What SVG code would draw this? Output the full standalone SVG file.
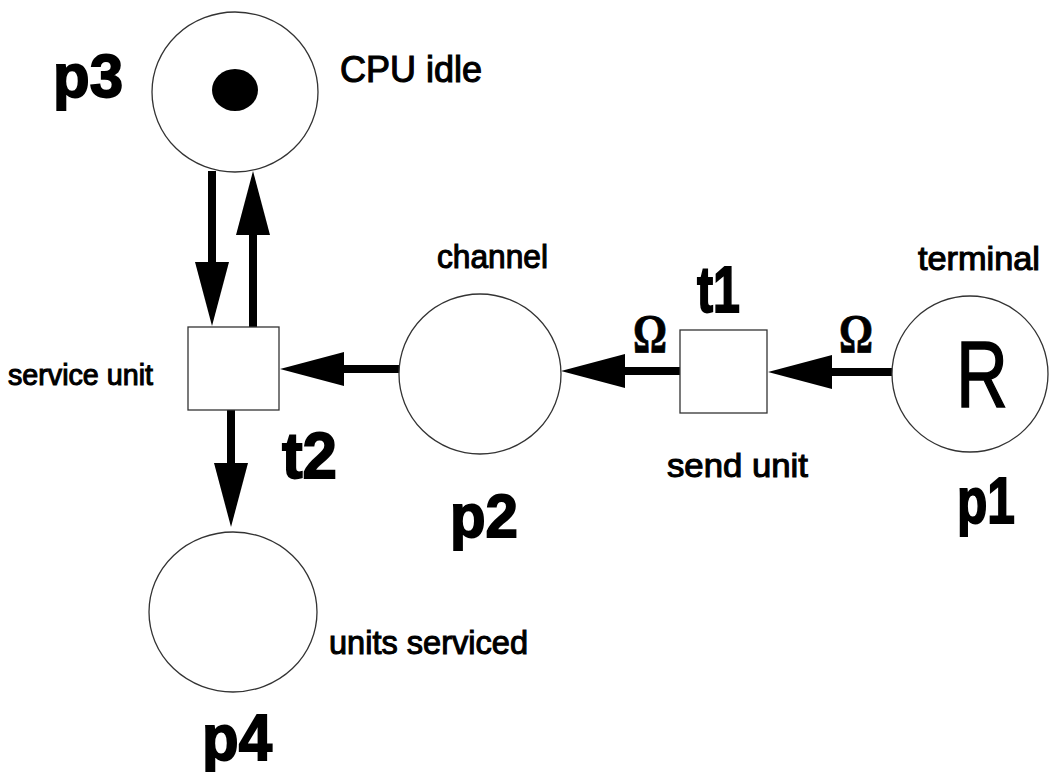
<svg xmlns="http://www.w3.org/2000/svg" width="1050" height="772" viewBox="0 0 1050 772">
  <style>
    .place { fill: #ffffff; stroke: #333333; stroke-width: 1.3; }
    .trans { fill: #ffffff; stroke: #333333; stroke-width: 1.3; }
    .arc { fill: none; stroke: #000000; stroke-width: 8; stroke-linecap: butt; marker-end: url(#head); }
    .lbl { font-family: "Liberation Sans", Arial, sans-serif; fill: #000; stroke: #000; stroke-width: 1.1; }
    .name { font-family: "Liberation Sans", Arial, sans-serif; font-weight: bold; fill: #000; stroke: #000; stroke-width: 1.8; }
    .omega { font-family: "Liberation Serif", "Times New Roman", serif; font-weight: bold; fill: #000; stroke: #000; stroke-width: 0.8; font-size: 54px; }
  </style>
  <defs>
    <marker id="head" viewBox="0 0 64 34" markerWidth="64" markerHeight="34" markerUnits="userSpaceOnUse" refX="1" refY="17" orient="auto">
      <path d="M0,0 L64,17 L0,34 Z" fill="#000"/>
    </marker>
  </defs>
  <rect width="1050" height="772" fill="#ffffff"/>

  <g id="connectors">
    <path class="arc" d="M212,171 L212,263"/>
    <path class="arc" d="M253,327 L253,234"/>
    <path class="arc" d="M231,410 L231,464"/>
    <path class="arc" d="M399,369 L343,369"/>
    <path class="arc" d="M680,371 L624,371"/>
    <path class="arc" d="M892,372 L831,372"/>
    <text class="omega" x="633" y="352" textLength="34" lengthAdjust="spacingAndGlyphs">Ω</text>
    <text class="omega" x="839" y="352" textLength="34" lengthAdjust="spacingAndGlyphs">Ω</text>
  </g>

  <g id="p3">
    <ellipse class="place" cx="235" cy="92" rx="83" ry="80"/>
    <ellipse cx="235" cy="90" rx="23" ry="21" fill="#000"/>
    <text class="name" x="53" y="97" font-size="62" textLength="70" lengthAdjust="spacingAndGlyphs">p3</text>
    <text class="lbl" x="340" y="82" font-size="36" textLength="142" lengthAdjust="spacingAndGlyphs">CPU idle</text>
  </g>

  <g id="t2">
    <rect class="trans" x="188" y="327" width="91" height="83"/>
    <text class="lbl" x="8" y="385" font-size="30" textLength="145" lengthAdjust="spacingAndGlyphs">service unit</text>
    <text class="name" x="282" y="478" font-size="64" textLength="55" lengthAdjust="spacingAndGlyphs">t2</text>
  </g>

  <g id="p2">
    <ellipse class="place" cx="480" cy="374" rx="81" ry="80"/>
    <text class="lbl" x="437" y="268" font-size="33" textLength="111" lengthAdjust="spacingAndGlyphs">channel</text>
    <text class="name" x="450" y="537" font-size="62" textLength="68" lengthAdjust="spacingAndGlyphs">p2</text>
  </g>

  <g id="t1">
    <rect class="trans" x="680" y="330" width="87" height="83"/>
    <text class="name" x="697" y="312" font-size="64" textLength="43" lengthAdjust="spacingAndGlyphs">t1</text>
    <text class="lbl" x="667" y="477" font-size="34" textLength="141" lengthAdjust="spacingAndGlyphs">send unit</text>
  </g>

  <g id="p1">
    <ellipse class="place" cx="970" cy="374" rx="78" ry="78"/>
    <text x="956" y="407" font-family="Liberation Sans, Arial, sans-serif" font-size="94" textLength="52" lengthAdjust="spacingAndGlyphs" fill="#000" stroke="#000" stroke-width="1.5">R</text>
    <text class="lbl" x="918" y="270" font-size="33" textLength="122" lengthAdjust="spacingAndGlyphs">terminal</text>
    <text class="name" x="957" y="523" font-size="64" textLength="58" lengthAdjust="spacingAndGlyphs">p1</text>
  </g>

  <g id="p4">
    <ellipse class="place" cx="233" cy="612" rx="84" ry="80"/>
    <text class="lbl" x="329" y="654" font-size="34" textLength="199" lengthAdjust="spacingAndGlyphs">units serviced</text>
    <text class="name" x="202" y="760" font-size="64" textLength="70" lengthAdjust="spacingAndGlyphs">p4</text>
  </g>
</svg>
